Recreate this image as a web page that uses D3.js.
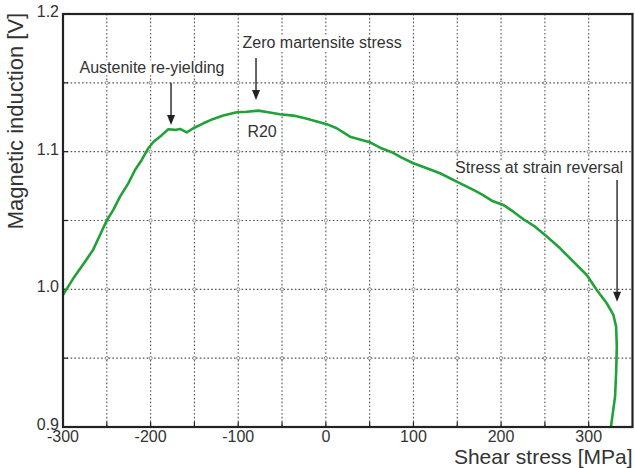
<!DOCTYPE html>
<html>
<head>
<meta charset="utf-8">
<script src="https://cdnjs.cloudflare.com/ajax/libs/d3/7.8.5/d3.min.js"></script>
<style>
  html, body { margin: 0; padding: 0; background: #fff; }
  svg { display: block; font-family: "Liberation Sans", Arial, sans-serif; }
</style>
</head>
<body>
<svg id="chart" width="635" height="468"></svg>
<script>
// Shear stress (MPa) and magnetic induction (V) along the R20 loading path
const stress = [
  -300, -288.2, -274.9, -265.4, -257.8, -250.1, -242.6, -234.9, -225.5, -217.8,
  -210.2, -202.6, -196.9, -187.3, -179.8, -172.1, -166.4, -158.8, -151.3, -139.8,
  -128.4, -117, -101.7, -90.3, -77, -65.6, -52.3, -37.1, -23.7, -12.3,
  1, 12.4, 27.6, 40.9, 50.5, 61.9, 75.2, 86.6, 99.9, 115.2,
  130.4, 149.4, 168.4, 178, 189.4, 202.6, 214, 225.5, 238.8, 252.2,
  267.4, 282.5, 297.8, 309.2, 320.6, 328.2, 331.3, 332.1, 331.3, 330.1,
  327.5, 325.2
];
const induction = [
  0.996, 1.008, 1.020, 1.029, 1.0395, 1.050, 1.0577, 1.0673, 1.077, 1.0867,
  1.094, 1.1025, 1.107, 1.112, 1.1163, 1.1158, 1.1165, 1.114, 1.117, 1.1206,
  1.1238, 1.1262, 1.1286, 1.129, 1.1298, 1.1286, 1.1272, 1.1262, 1.1243, 1.1223,
  1.120, 1.117, 1.1109, 1.1085, 1.1068, 1.1029, 1.0996, 1.0957, 1.0916, 1.088,
  1.0843, 1.0782, 1.0722, 1.069, 1.0644, 1.0613, 1.0564, 1.0509, 1.0455, 1.0383,
  1.0298, 1.0201, 1.0104, 0.9995, 0.9899, 0.9814, 0.9729, 0.9584, 0.9391, 0.9221,
  0.910, 0.899
];

const xTicks = [-300, -200, -100, 0, 100, 200, 300];
const yTicks = [0.9, 1.0, 1.1, 1.2];
const xGrid = [-250, -200, -150, -100, -50, 0, 50, 100, 150, 200, 250, 300];
const yGrid = [0.95, 1.0, 1.05, 1.1, 1.15];

// Annotations: label text, anchor point and arrow (x, from y, to y) in data units
const notes = [
  { text: "Austenite re-yielding", x: -198.4, y: 1.157, arrow: [-176.7, 1.150, 1.1194] },
  { text: "Zero martensite stress", x: -4.3, y: 1.175, arrow: [-79.7, 1.168, 1.1375] },
  { text: "R20", x: -72.8, y: 1.111, arrow: null },
  { text: "Stress at strain reversal", x: 243.4, y: 1.0843, arrow: [332.4, 1.0795, 0.991] }
];

const svg = d3.select("#chart");
const plotL = 63, plotR = 632.5, plotT = 14, plotB = 427;

const x = d3.scaleLinear().domain([-300, 350]).range([plotL, plotR]);
const y = d3.scaleLinear().domain([0.9, 1.2]).range([plotB, plotT]);

svg.append("defs").append("clipPath").attr("id", "plotClip")
  .append("rect").attr("x", plotL).attr("y", plotT)
  .attr("width", plotR - plotL).attr("height", plotB - plotT);

// Dotted grid
const grid = svg.append("g").attr("stroke", "#555").attr("stroke-width", 1.1)
  .attr("stroke-dasharray", "1.6,2.2").attr("fill", "none");
grid.selectAll("line.v").data(xGrid).join("line").attr("class", "v")
  .attr("x1", d => x(d)).attr("x2", d => x(d)).attr("y1", plotT).attr("y2", plotB);
grid.selectAll("line.h").data(yGrid).join("line").attr("class", "h")
  .attr("x1", plotL).attr("x2", plotR).attr("y1", d => y(d)).attr("y2", d => y(d));

// Small rings where the grid lines cross
const crossings = [];
xGrid.forEach(a => yGrid.forEach(b => crossings.push([a, b])));
svg.append("g").selectAll("circle").data(crossings).join("circle")
  .attr("cx", d => x(d[0])).attr("cy", d => y(d[1])).attr("r", 1.6)
  .attr("fill", "#fff").attr("stroke", "#777").attr("stroke-width", 0.8);

// Inner tick marks
const ticks = svg.append("g").attr("stroke", "#222").attr("stroke-width", 1.2);
ticks.selectAll("line.xt").data(xGrid).join("line").attr("class", "xt")
  .attr("x1", d => x(d)).attr("x2", d => x(d)).attr("y1", plotB).attr("y2", plotB - 5);
ticks.selectAll("line.yt").data(yGrid).join("line").attr("class", "yt")
  .attr("x1", plotL).attr("x2", plotL + 5).attr("y1", d => y(d)).attr("y2", d => y(d));

// Annotation labels on white backing so the grid passes behind them
const noteG = svg.append("g");
notes.forEach(n => {
  const t = noteG.append("text")
    .attr("x", x(n.x)).attr("y", y(n.y))
    .attr("text-anchor", "middle").attr("font-size", 16).attr("fill", "#333")
    .text(n.text);
  const bb = t.node().getBBox();
  noteG.insert("rect", "text")
    .attr("x", bb.x - 1).attr("y", bb.y + 1).attr("width", bb.width + 2).attr("height", bb.height - 2)
    .attr("fill", "#fff");
});

// Arrows
const arrowG = svg.append("g");
notes.filter(n => n.arrow).forEach(n => {
  const [ax, y0, y1] = n.arrow;
  const px = x(ax), py0 = y(y0), py1 = y(y1);
  arrowG.append("line").attr("x1", px).attr("x2", px).attr("y1", py0).attr("y2", py1 - 8)
    .attr("stroke", "#333").attr("stroke-width", 1.5);
  arrowG.append("path")
    .attr("d", `M${px - 4},${py1 - 10} L${px + 4},${py1 - 10} L${px},${py1} Z`)
    .attr("fill", "#222");
});

// Measured curve
const pts = stress.map((s, i) => [s, induction[i]]);
svg.append("path").datum(pts)
  .attr("clip-path", "url(#plotClip)")
  .attr("fill", "none").attr("stroke", "#22a03a").attr("stroke-width", 2.6)
  .attr("stroke-linejoin", "round")
  .attr("d", d3.line().x(d => x(d[0])).y(d => y(d[1])));

// Frame
svg.append("rect").attr("x", plotL).attr("y", plotT)
  .attr("width", plotR - plotL).attr("height", plotB - plotT)
  .attr("fill", "none").attr("stroke", "#222").attr("stroke-width", 2.2);

// Tick labels
svg.append("g").selectAll("text").data(xTicks).join("text")
  .attr("x", d => x(d)).attr("y", plotB + 15)
  .attr("text-anchor", "middle").attr("font-size", 16).attr("fill", "#333")
  .text(d => d);
svg.append("g").selectAll("text").data(yTicks).join("text")
  .attr("x", plotL - 4).attr("y", d => y(d) + 3)
  .attr("text-anchor", "end").attr("font-size", 16).attr("fill", "#333")
  .text(d => d3.format(".1f")(d));

// Axis titles
svg.append("text").attr("x", plotR).attr("y", 464)
  .attr("text-anchor", "end").attr("font-size", 21).attr("fill", "#333")
  .text("Shear stress [MPa]");
svg.append("text").attr("transform", "translate(23,121) rotate(-90)")
  .attr("text-anchor", "middle").attr("font-size", 22).attr("fill", "#333")
  .text("Magnetic induction [V]");
</script>
</body>
</html>
